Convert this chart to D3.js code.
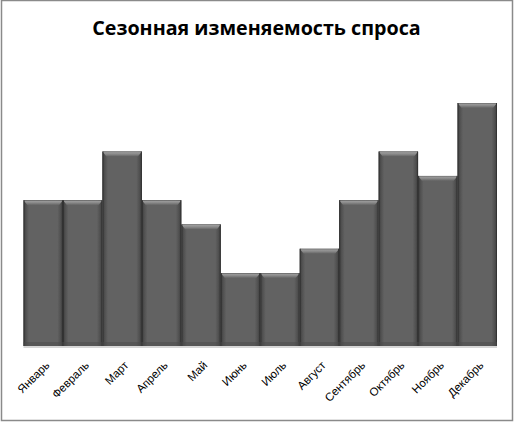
<!DOCTYPE html>
<html><head><meta charset="utf-8">
<script src="https://cdn.jsdelivr.net/npm/d3@7"></script>
<style>body{margin:0;background:#fff}svg{display:block}</style>
</head><body>
<script>
const title = "Сезонная изменяемость спроса";
const months = ["Январь","Февраль","Март","Апрель","Май","Июнь","Июль","Август","Сентябрь","Октябрь","Ноябрь","Декабрь"];
const demand = [6,6,8,6,5,3,3,4,6,8,7,10];

const W=514,H=422;
const svg=d3.select("body").append("svg").attr("width",W).attr("height",H);
const defs=svg.append("defs");
const g1=defs.append("linearGradient").attr("id","barH").attr("x1","0").attr("x2","1").attr("y1","0").attr("y2","0");
[[0,"#3c3c3c"],[0.06,"#505050"],[0.14,"#626262"],[0.86,"#626262"],[0.94,"#505050"],[1,"#3c3c3c"]].forEach(([o,c])=>g1.append("stop").attr("offset",o).attr("stop-color",c));
const g2=defs.append("linearGradient").attr("id","bevel").attr("x1","0").attr("x2","0").attr("y1","0").attr("y2","1");
[[0,"#5a5a5a"],[0.2,"#9a9a9a"],[0.5,"#8a8a8a"],[1,"#626262"]].forEach(([o,c])=>g2.append("stop").attr("offset",o).attr("stop-color",c));

svg.append("rect").attr("x",1.5).attr("y",0.5).attr("width",511).attr("height",420).attr("fill","#fff").attr("stroke","#8a8a8a").attr("stroke-width",1.5);

svg.append("text").attr("x",256.5).attr("y",35).attr("text-anchor","middle")
  .attr("font-family","'Open Sans', sans-serif").attr("font-weight","bold").attr("font-size",19.7).attr("fill","#000").text(title);

const x=d3.scaleBand().domain(months).range([23.5,497]).padding(0);
const y=d3.scaleLinear().domain([0,10]).range([346,103]);

svg.append("line").attr("x1",x.range()[0]).attr("x2",x.range()[1]).attr("y1",y(0)+1).attr("y2",y(0)+1).attr("stroke","#c8c8c8").attr("stroke-width",1.5);

const bars=svg.append("g").selectAll("g").data(months.map((m,i)=>({m,v:demand[i]}))).join("g");
bars.append("rect").attr("x",d=>x(d.m)).attr("y",d=>y(d.v)).attr("width",x.bandwidth()).attr("height",d=>y(0)-y(d.v)).attr("fill","url(#barH)");
bars.append("path").attr("d",d=>{const x0=x(d.m),x1=x0+x.bandwidth(),t=y(d.v);return `M${x0},${t}L${x1},${t}L${x1-4},${t+5}L${x0+4},${t+5}Z`;}).attr("fill","url(#bevel)");
bars.append("line").attr("x1",d=>x(d.m)+0.5).attr("x2",d=>x(d.m)+0.5).attr("y1",d=>y(d.v)).attr("y2",y(0)).attr("stroke","#333").attr("stroke-width",1);
bars.append("line").attr("x1",d=>x(d.m)+x.bandwidth()-0.5).attr("x2",d=>x(d.m)+x.bandwidth()-0.5).attr("y1",d=>y(d.v)).attr("y2",y(0)).attr("stroke","#333").attr("stroke-width",1);
bars.append("rect").attr("x",d=>x(d.m)).attr("y",y(0)-4).attr("width",x.bandwidth()).attr("height",4).attr("fill","#4a4a4a").attr("opacity",0.5);

const xAxis=svg.append("g").attr("transform",`translate(0,${y(0)})`).call(d3.axisBottom(x).tickSize(0).tickPadding(0));
xAxis.select(".domain").remove();
xAxis.selectAll("text").attr("font-family","'Liberation Sans', sans-serif").attr("font-size",11.5).attr("fill","#000")
  .attr("text-anchor","end").attr("dy",0).attr("transform","translate(7,20) rotate(-45)");
</script>
</body></html>
